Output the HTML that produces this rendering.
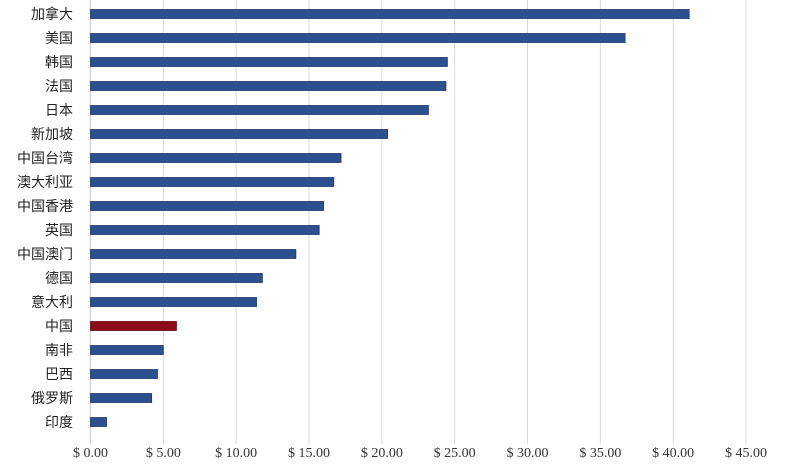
<!DOCTYPE html>
<html><head><meta charset="utf-8"><style>
html,body{margin:0;padding:0;background:#fff;}
svg{display:block;}
</style></head><body>
<svg id="chart" width="800" height="476" xmlns="http://www.w3.org/2000/svg"></svg>
<script>
const categories = ["加拿大","美国","韩国","法国","日本","新加坡","中国台湾","澳大利亚","中国香港","英国","中国澳门","德国","意大利","中国","南非","巴西","俄罗斯","印度"];
const values = [41.1,36.7,24.5,24.4,23.2,20.4,17.2,16.7,16.0,15.7,14.1,11.8,11.4,5.9,5.0,4.6,4.2,1.1];
const highlight = ["中国"];
const tickValues = [0,5,10,15,20,25,30,35,40,45];
const tickLabels = ["$ 0.00","$ 5.00","$ 10.00","$ 15.00","$ 20.00","$ 25.00","$ 30.00","$ 35.00","$ 40.00","$ 45.00"];

const NS="http://www.w3.org/2000/svg";
const svg=document.getElementById('chart');
const x0=90.5, x1=746, xmax=45;
const xs=v=>x0+(x1-x0)*v/xmax;
const yTop=2, band=24;
const yc=i=>yTop+band*i+band/2;
function mk(t,a){const e=document.createElementNS(NS,t);for(const k in a)e.setAttribute(k,a[k]);svg.appendChild(e);return e;}

tickValues.forEach((v,i)=>{
  const g=mk('line',{x1:xs(v),x2:xs(v),y1:0,y2:444,stroke:i===0?'#c9cfdc':'#d9d9d9','stroke-width':1});
  
  
  const t=mk('text',{x:xs(v),y:457,'text-anchor':'middle','font-family':'"Liberation Serif", serif','font-size':'14',fill:'#333'});
  t.textContent=tickLabels[i];
  
  
});

categories.forEach((c,i)=>{
  const hi=highlight.includes(c);
  const r=mk('rect',{x:x0,y:yc(i)-4.5,width:xs(values[i])-x0,height:9,fill:hi?'#8b0d1a':'#2d4f8e',stroke:hi?'#6a0612':'#1f3a6e','stroke-width':0.8});
  
  
  const t=mk('text',{x:73,y:yc(i)+5,'text-anchor':'end','font-family':'"Liberation Sans","Noto Sans CJK SC",sans-serif','font-size':'14',fill:'#222'});
  t.textContent=c;
  
  
});
</script>
</body></html>
